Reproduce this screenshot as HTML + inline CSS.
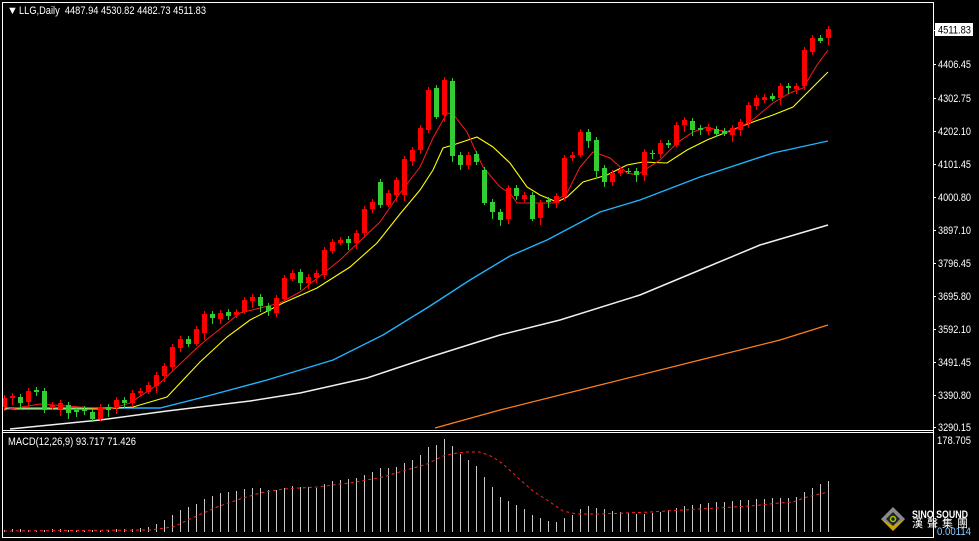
<!DOCTYPE html>
<html><head><meta charset="utf-8">
<style>
html,body{margin:0;padding:0;background:#000;}
body{width:979px;height:541px;overflow:hidden;}
svg{display:block;}
text{font-family:"Liberation Sans","Noto Sans CJK SC",sans-serif;font-size:11px;}
</style></head>
<body>
<svg id="s" width="979" height="541" xmlns="http://www.w3.org/2000/svg">
<rect width="979" height="541" fill="#000"/>
<g id="g"></g>
<!-- frames -->
<line x1="2.5" y1="2.5" x2="933.5" y2="2.5" stroke="#fff"/>
<line x1="2.5" y1="2" x2="2.5" y2="538" stroke="#fff"/>
<line x1="933.5" y1="2" x2="933.5" y2="538" stroke="#fff"/>
<line x1="2" y1="430.5" x2="934" y2="430.5" stroke="#fff"/>
<line x1="2" y1="432.5" x2="934" y2="432.5" stroke="#fff"/>
<line x1="2" y1="537.5" x2="934" y2="537.5" stroke="#fff"/>
<text x="7" y="14" fill="#fff" font-size="9">▼</text>
<text x="19" y="14" fill="#fff" font-size="10.5" textLength="187" lengthAdjust="spacingAndGlyphs">LLG,Daily&#160; 4487.94 4530.82 4482.73 4511.83</text>
<text x="8" y="445" fill="#fff" font-size="10.5" textLength="128" lengthAdjust="spacingAndGlyphs">MACD(12,26,9) 93.717 71.426</text>
<g id="ax" fill="#fff" font-size="10.5"></g>
<rect x="935" y="23" width="38" height="13" fill="#fff"/>
<text x="938" y="33.5" fill="#000" font-size="10.5" textLength="33" lengthAdjust="spacingAndGlyphs">4511.83</text>
<text x="937" y="444" fill="#fff" font-size="10.5" textLength="34" lengthAdjust="spacingAndGlyphs">178.705</text>
<!-- logo -->
<polygon points="893,507 905,519 893,531 881,519" fill="#8a8a8a"/>
<polygon points="881,519 893,531 905,519 893,526" fill="#c9a400"/>
<polygon points="893,512 900,519 893,526 886,519" fill="#222"/>
<circle cx="893" cy="519" r="2.5" fill="none" stroke="#9c0" stroke-width="1.5"/>
<text x="912" y="518" fill="#fff" font-size="9" font-weight="bold" textLength="56" lengthAdjust="spacingAndGlyphs">SINO SOUND</text>
<text x="912" y="527" fill="#fff" font-size="7" textLength="56" lengthAdjust="spacing">漢聲集團</text>
<text x="937" y="535" fill="#8cf" font-size="10" textLength="34" lengthAdjust="spacingAndGlyphs">0.00114</text>
</svg>
<script>
var NS="http://www.w3.org/2000/svg",g=document.getElementById('g');
function el(t,a){var e=document.createElementNS(NS,t);for(var k in a)e.setAttribute(k,a[k]);g.appendChild(e);return e;}
function pl(pts,c,w,d){var s=pts.map(function(p){return p[0]+','+p[1]}).join(' ');var a={points:s,fill:'none',stroke:c,'stroke-width':w};if(d)a['stroke-dasharray']=d;el('polyline',a);}
var ax=document.getElementById('ax');
[["4406.45",64],["4302.75",98],["4202.10",131],["4101.45",164],["4000.80",197],["3897.10",230],["3796.45",263],["3695.80",296],["3592.10",329],["3491.45",362],["3390.80",395],["3290.15",427]].forEach(function(l){
 var t=document.createElementNS(NS,'text');t.setAttribute('x',938);t.setAttribute('y',l[1]+4);t.setAttribute('textLength',33);t.setAttribute('lengthAdjust','spacingAndGlyphs');t.textContent=l[0];ax.appendChild(t);
 el('line',{x1:933,y1:l[1]+.5,x2:936,y2:l[1]+.5,stroke:'#fff'});
});
el('line',{x1:933,y1:30.5,x2:936,y2:30.5,stroke:'#fff'});
pl([[435,428],[500,410],[600,385],[700,360],[780,340],[828,325]],'#ff7f1e',1.2);
pl([[10,429],[100,420],[167,411],[250,401],[300,393],[367,378],[430,357],[500,335],[560,320],[640,295],[700,270],[760,245],[828,225]],'#f0f0f0',1.5);
pl([[4,408],[160,408],[200,398],[267,380],[333,360],[383,335],[430,306],[470,280],[510,256],[547,240],[600,212],[640,200],[700,177],[773,153],[828,141]],'#1eb4ff',1.4);
pl([[4,409],[100,409],[133,407],[167,397],[200,362],[227,337],[250,320],[283,303],[317,288],[350,267],[377,243],[400,214],[420,190],[433,170],[443,148],[453,145],[477,137],[493,147],[510,163],[527,187],[540,195],[557,202],[567,197],[583,182],[607,175],[627,165],[643,162],[667,163],[687,150],[707,140],[727,132],[750,123],[773,115],[793,107],[807,93],[828,72]],'#ffff00',1.1);
pl([[4,410],[40,404],[80,407],[110,409],[130,403],[160,383],[200,345],[240,313],[280,303],[300,292],[340,260],[380,222],[400,193],[420,167],[433,138],[447,113],[453,114],[467,132],[483,167],[500,187],[510,193],[517,203],[533,203],[553,203],[567,193],[580,167],[593,152],[610,158],[627,173],[637,175],[660,160],[677,143],[693,132],[707,127],[717,130],[730,132],[750,122],[773,103],[790,93],[803,88],[817,65],[828,50]],'#ff1a1a',1);
var C=[[398,407,'r'],[396,398,'r'],[397,403,'g'],[391,402,'r'],[390,392,'g'],[391,410,'g'],[405,408,'r'],[403,409,'r'],[405,413,'g'],[410,412,'g'],[409,411,'g'],[412,419,'g'],[407,419,'r'],[407,410,'g'],[400,408,'r'],[400,403,'g'],[393,403,'r'],[391,393,'r'],[385,392,'r'],[375,386,'r'],[366,376,'r'],[347,367,'r'],[339,348,'r'],[339,344,'g'],[329,344,'r'],[314,333,'r'],[314,318,'g'],[313,319,'r'],[312,316,'g'],[312,315,'r'],[300,312,'r'],[297,301,'r'],[297,306,'g'],[306,311,'g'],[298,313,'r'],[278,299,'r'],[273,279,'r'],[272,283,'g'],[277,283,'r'],[273,278,'r'],[250,275,'r'],[242,251,'r'],[240,243,'r'],[239,243,'g'],[233,243,'r'],[209,233,'r'],[202,209,'r'],[182,205,'g'],[193,205,'r'],[180,195,'r'],[159,195,'r'],[150,161,'r'],[128,150,'r'],[90,130,'r'],[88,117,'g'],[80,115,'r'],[81,156,'g'],[155,165,'g'],[155,165,'r'],[154,162,'g'],[170,203,'g'],[202,212,'g'],[212,220,'g'],[188,219,'r'],[188,196,'g'],[195,199,'r'],[195,219,'g'],[203,218,'r'],[200,202,'g'],[196,203,'r'],[158,197,'r'],[155,158,'r'],[132,155,'r'],[132,141,'g'],[140,171,'g'],[168,182,'g'],[173,182,'r'],[170,173,'r'],[171,172,'g'],[171,175,'g'],[152,175,'r'],[153,154,'g'],[143,154,'r'],[143,145,'g'],[125,145,'r'],[120,125,'r'],[121,130,'g'],[128,130,'g'],[127,131,'r'],[129,134,'g'],[131,134,'g'],[128,135,'r'],[122,130,'r'],[105,123,'r'],[98,106,'r'],[97,100,'r'],[96,99,'g'],[86,98,'r'],[86,88,'g'],[86,89,'r'],[50,86,'r'],[38,52,'r'],[38,41,'g'],[29,38,'r']];
C.forEach(function(c,i){
 var x=4+8*i,col=c[2]=='r'?'#ff0000':'#32cd32';
 var wt=c[0]-(3+(i*7)%7),wb=c[1]+(2+(i*5)%6);
 el('line',{x1:x+.5,y1:wt,x2:x+.5,y2:wb,stroke:col,'stroke-width':1});
 el('rect',{x:x-2,y:c[0],width:5,height:Math.max(1,c[1]-c[0]),fill:col});
});
var H=[[4,2],[20,3],[36,1],[52,3],[68,2],[84,2],[100,1],[116,3],[132,3],[148,5],[157,8],[164,12],[172,17],[180,22],[188,25],[196,28],[204,33],[212,36],[220,39],[228,40],[236,41],[244,43],[252,44],[260,44],[268,42],[276,42],[284,44],[292,46],[316,44],[324,48],[332,51],[348,53],[356,54],[364,57],[372,60],[380,64],[388,64],[396,65],[404,69],[412,72],[420,77],[428,85],[436,87],[444,93],[452,86],[460,78],[468,72],[476,66],[484,55],[492,45],[500,35],[508,31],[516,27],[524,23],[532,17],[540,14],[548,11],[556,10],[564,14],[572,17],[580,23],[588,26],[596,24],[620,20],[640,18],[660,20],[680,25],[700,28],[720,30],[740,32],[764,33],[780,34],[788,34],[796,35],[804,40],[812,44],[820,48],[828,51]];
function interp(A,x){for(var k=0;k<A.length-1;k++){if(x>=A[k][0]&&x<=A[k+1][0]){var t=(x-A[k][0])/(A[k+1][0]-A[k][0]);return A[k][1]+t*(A[k+1][1]-A[k][1]);}}return A[A.length-1][1];}
for(var i=0;i<104;i++){var x=4+8*i,h=Math.round(interp(H,x));el('line',{x1:x+.5,y1:532,x2:x+.5,y2:532-h,stroke:'#c8c8c8','stroke-width':1});}
pl([[4,531],[150,530],[173,527],[190,519],[217,507],[240,499],[260,493],[283,489],[317,487],[350,483],[383,477],[403,471],[417,467],[427,464],[443,456],[457,453],[467,452],[480,452],[493,457],[503,464],[517,477],[533,491],[550,502],[563,511],[577,514],[600,514],[650,512],[700,509],[750,506],[780,503],[793,502],[807,497],[828,492]],'#ff2020',1,'3,3');
</script>
</body></html>
